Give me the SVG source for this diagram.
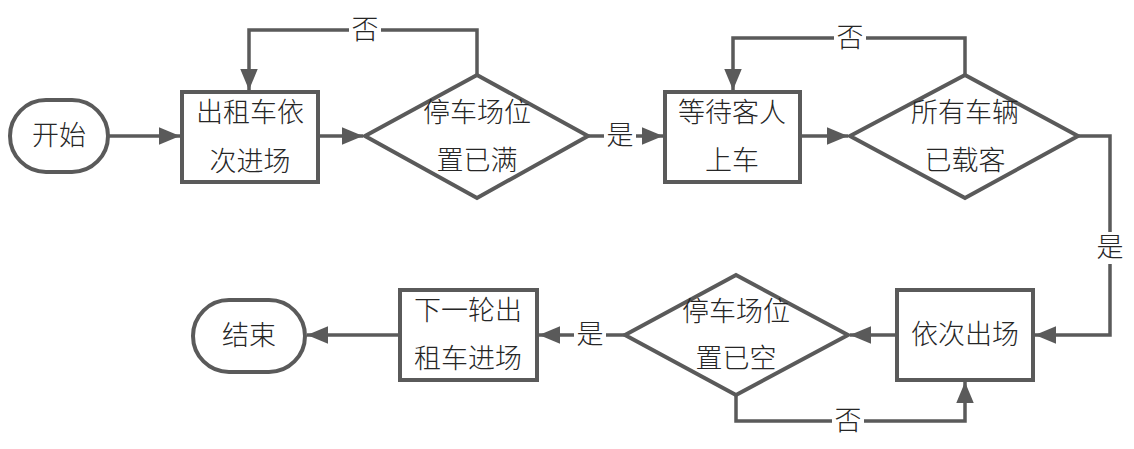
<svg xmlns="http://www.w3.org/2000/svg" width="1134" height="449" viewBox="0 0 1134 449">
<style>
.s{fill:#fff;stroke:#5a5a5a;stroke-width:4}
.l{fill:none;stroke:#5a5a5a;stroke-width:3.5}
text{font-family:"Noto Sans CJK SC",sans-serif;font-size:27px;font-weight:300;fill:#262626;text-anchor:middle}
.bg{fill:#fff}
</style>
<defs>
<marker id="a" viewBox="0 0 12 10" refX="12" refY="5" markerWidth="6" markerHeight="5" markerUnits="strokeWidth" orient="auto">
<path d="M0,0L12,5L0,10z" fill="#5a5a5a"/>
</marker>
</defs>
<g id="connectors">
<path class="l" d="M108,136H180" marker-end="url(#a)"/>
<path class="l" d="M318,136H363" marker-end="url(#a)"/>
<path class="l" d="M477,75V30H249V90" marker-end="url(#a)"/>
<path class="l" d="M588,136H663" marker-end="url(#a)"/>
<path class="l" d="M800,136H848" marker-end="url(#a)"/>
<path class="l" d="M965,75V38H733V90" marker-end="url(#a)"/>
<path class="l" d="M1078,136H1110V335H1035" marker-end="url(#a)"/>
<path class="l" d="M897,335H850" marker-end="url(#a)"/>
<path class="l" d="M736,395V421H965V382" marker-end="url(#a)"/>
<path class="l" d="M625,335H539" marker-end="url(#a)"/>
<path class="l" d="M400,335H307" marker-end="url(#a)"/>
<rect class="bg" x="349" y="14" width="32" height="32"/>
<text x="365" y="39">否</text>
<rect class="bg" x="834" y="22" width="32" height="32"/>
<text x="850" y="47">否</text>
<rect class="bg" x="604" y="120" width="32" height="32"/>
<text x="620" y="145">是</text>
<rect class="bg" x="1094" y="232" width="32" height="32"/>
<text x="1110" y="257">是</text>
<rect class="bg" x="574" y="319" width="32" height="32"/>
<text x="590" y="344">是</text>
<rect class="bg" x="832" y="405" width="32" height="32"/>
<text x="848" y="430">否</text>
</g>
<g id="start">
<rect class="s" x="10" y="100" width="98" height="72" rx="36"/>
<text x="59" y="145">开始</text>
</g>
<g id="box1">
<rect class="s" x="182" y="92" width="136" height="90"/>
<text x="250" y="122">出租车依</text>
<text x="250" y="171">次进场</text>
</g>
<g id="d1">
<path class="s" d="M365,136L477,75L588,136L477,198z"/>
<text x="477" y="122">停车场位</text>
<text x="477" y="170">置已满</text>
</g>
<g id="box2">
<rect class="s" x="665" y="92" width="135" height="90"/>
<text x="732" y="122">等待客人</text>
<text x="732" y="170">上车</text>
</g>
<g id="d2">
<path class="s" d="M850,136L965,75L1078,136L965,198z"/>
<text x="965" y="122">所有车辆</text>
<text x="965" y="170">已载客</text>
</g>
<g id="box3">
<rect class="s" x="897" y="290" width="136" height="90"/>
<text x="965" y="344">依次出场</text>
</g>
<g id="d3">
<path class="s" d="M625,335L736,275L848,335L736,395z"/>
<text x="736" y="321">停车场位</text>
<text x="736" y="368">置已空</text>
</g>
<g id="box4">
<rect class="s" x="400" y="290" width="137" height="90"/>
<text x="468" y="320">下一轮出</text>
<text x="468" y="368">租车进场</text>
</g>
<g id="end">
<rect class="s" x="193" y="300" width="112" height="72" rx="36"/>
<text x="249" y="345">结束</text>
</g>
</svg>
